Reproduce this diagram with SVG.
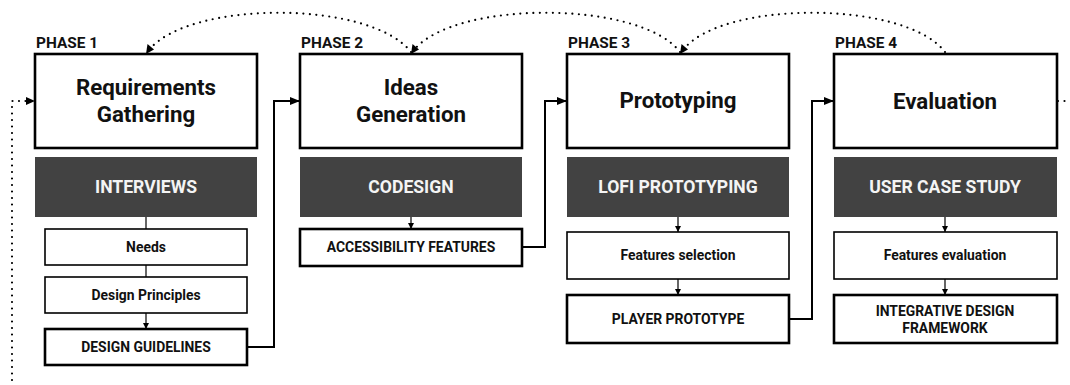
<svg xmlns="http://www.w3.org/2000/svg" width="1070" height="385" viewBox="0 0 1070 385">
<defs>
<marker id="ah" markerWidth="10" markerHeight="8" refX="9" refY="4" orient="auto" markerUnits="userSpaceOnUse"><path d="M0,0 L10,4 L0,8 Z" fill="#000"/></marker>
<marker id="as" markerWidth="6" markerHeight="6" refX="6" refY="3" orient="auto" markerUnits="userSpaceOnUse"><path d="M0,0 L6,3 L0,6 Z" fill="#000"/></marker>
<style>
.main{fill:#fff;stroke:#000;stroke-width:2.6}
.dark{fill:#424242;stroke:none}
.sub{fill:#fff;stroke:#000;stroke-width:1.6}
.out{fill:#fff;stroke:#000;stroke-width:2.6}
.title{font-family:Roboto,"Liberation Sans",sans-serif;font-weight:700;font-size:22.3px;fill:#111;text-anchor:middle}
.phase{font-family:Roboto,"Liberation Sans",sans-serif;font-weight:700;font-size:15.4px;fill:#111}
.dt{font-family:Roboto,"Liberation Sans",sans-serif;font-weight:700;font-size:17.6px;fill:#f4f4f4;text-anchor:middle}
.st{font-family:Roboto,"Liberation Sans",sans-serif;font-weight:700;font-size:13.9px;fill:#111;text-anchor:middle}
.ln{fill:none;stroke:#000;stroke-width:1.2}
.el{fill:none;stroke:#000;stroke-width:2}
.dot{fill:none;stroke:#000;stroke-width:2.2;stroke-linecap:round;stroke-dasharray:0 6.5}
</style>
</defs>

<g id="connectors">
<line class="ln" x1="146" y1="217" x2="146" y2="229"/>
<line class="ln" x1="146" y1="265" x2="146" y2="277"/>
<line class="ln" x1="146" y1="313" x2="146" y2="329" marker-end="url(#as)"/>
<path class="el" d="M247,347 H274 V101 H299" marker-end="url(#ah)"/>
<line class="ln" x1="411" y1="217" x2="411" y2="229" marker-end="url(#as)"/>
<path class="el" d="M522,247 H545 V101 H566" marker-end="url(#ah)"/>
<line class="ln" x1="678" y1="217" x2="678" y2="232" marker-end="url(#as)"/>
<line class="ln" x1="678" y1="279" x2="678" y2="295" marker-end="url(#as)"/>
<path class="el" d="M789,319 H812 V101 H833" marker-end="url(#ah)"/>
<line class="ln" x1="945" y1="217" x2="945" y2="232" marker-end="url(#as)"/>
<line class="ln" x1="945" y1="279" x2="945" y2="295" marker-end="url(#as)"/>
<path class="dot" d="M411,52 C370,0 190,0 149,50"/>
<path d="M146,54 L147.5,44 L154,49.5 Z" fill="#000"/>
<path class="dot" d="M680,52 C640,0 455,0 414,50"/>
<path d="M411,54 L412.5,44 L419,49.5 Z" fill="#000"/>
<path class="dot" d="M945,52 C905,0 722,0 683,50"/>
<path d="M680,54 L681.5,44 L688,49.5 Z" fill="#000"/>
<path class="dot" d="M1058,101 H1068"/>
<path class="dot" d="M12,380 V101 H26"/>
<path d="M35,101 L26,97 L26,105 Z" fill="#000"/>
</g>

<g id="phase1">
<text class="phase" x="36" y="48">PHASE 1</text>
<rect class="main" x="35" y="54" width="222" height="94"/>
<text class="title" x="146" y="95">Requirements</text>
<text class="title" x="146" y="122">Gathering</text>
</g>
<g id="interviews"><rect class="dark" x="35" y="157" width="222" height="60"/><text class="dt" x="146" y="193">INTERVIEWS</text></g>
<g id="needs"><rect class="sub" x="45" y="229" width="202" height="36"/><text class="st" x="146" y="252">Needs</text></g>
<g id="principles"><rect class="sub" x="45" y="277" width="202" height="36"/><text class="st" x="146" y="300">Design Principles</text></g>
<g id="guidelines"><rect class="out" x="45" y="329" width="202" height="36"/><text class="st" x="146" y="352">DESIGN GUIDELINES</text></g>

<g id="phase2">
<text class="phase" x="301" y="48">PHASE 2</text>
<rect class="main" x="300" y="54" width="222" height="94"/>
<text class="title" x="411" y="95">Ideas</text>
<text class="title" x="411" y="122">Generation</text>
</g>
<g id="codesign"><rect class="dark" x="300" y="157" width="222" height="60"/><text class="dt" x="411" y="193">CODESIGN</text></g>
<g id="accessibility"><rect class="out" x="300" y="229" width="222" height="37"/><text class="st" x="411" y="252">ACCESSIBILITY FEATURES</text></g>

<g id="phase3">
<text class="phase" x="568" y="48">PHASE 3</text>
<rect class="main" x="567" y="54" width="222" height="94"/>
<text class="title" x="678" y="108">Prototyping</text>
</g>
<g id="lofi"><rect class="dark" x="567" y="157" width="222" height="60"/><text class="dt" x="678" y="193">LOFI PROTOTYPING</text></g>
<g id="selection"><rect class="sub" x="567" y="232" width="222" height="47"/><text class="st" x="678" y="260">Features selection</text></g>
<g id="player"><rect class="out" x="567" y="295" width="222" height="48"/><text class="st" x="678" y="324">PLAYER PROTOTYPE</text></g>

<g id="phase4">
<text class="phase" x="835" y="48">PHASE 4</text>
<rect class="main" x="834" y="54" width="223" height="94"/>
<text class="title" x="945" y="109">Evaluation</text>
</g>
<g id="usercase"><rect class="dark" x="834" y="157" width="223" height="60"/><text class="dt" x="945" y="193">USER CASE STUDY</text></g>
<g id="fevaluation"><rect class="sub" x="834" y="232" width="223" height="47"/><text class="st" x="945" y="260">Features evaluation</text></g>
<g id="framework"><rect class="out" x="834" y="295" width="223" height="48"/><text class="st" x="945" y="316">INTEGRATIVE DESIGN</text><text class="st" x="945" y="333">FRAMEWORK</text></g>
</svg>
